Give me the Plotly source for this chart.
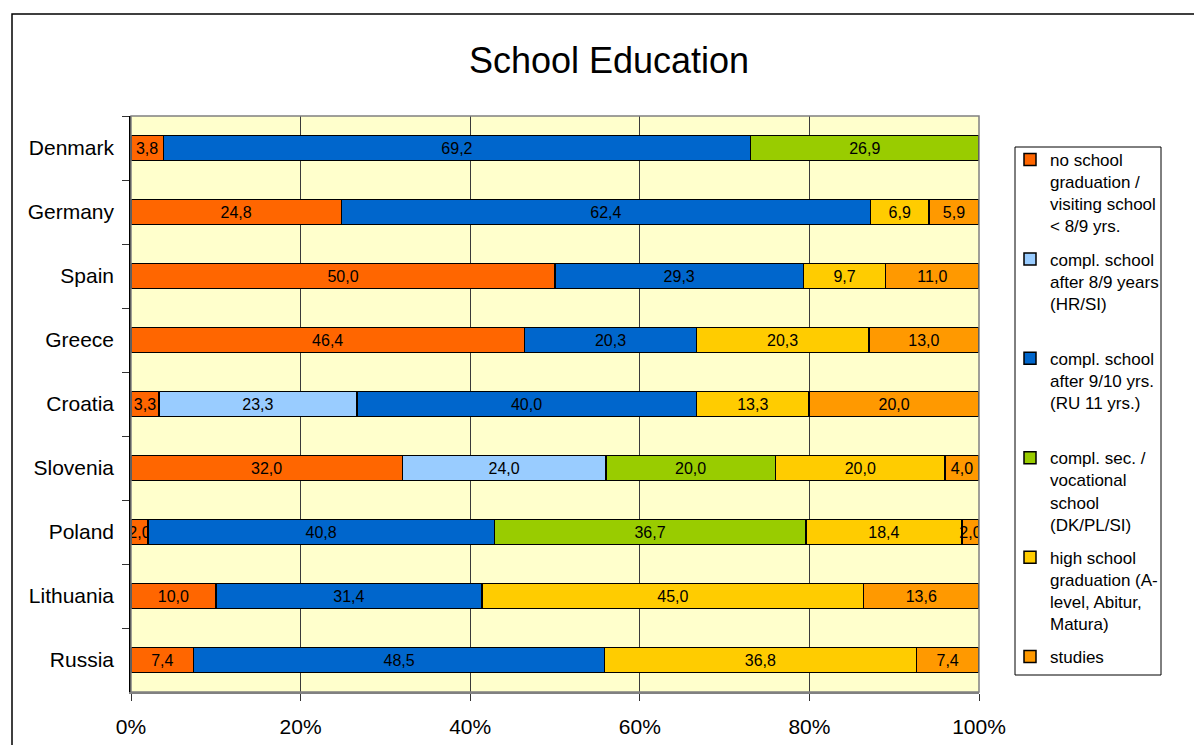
import plotly.graph_objects as go

# Countries, top to bottom
countries = ["Denmark", "Germany", "Spain", "Greece", "Croatia",
             "Slovenia", "Poland", "Lithuania", "Russia"]

# Share of respondents (%) per education level
no_school = [3.8, 24.8, 50.0, 46.4, 3.3, 32.0, 2.0, 10.0, 7.4]
compl_8_9 = [None, None, None, None, 23.3, 24.0, None, None, None]
compl_9_10 = [69.2, 62.4, 29.3, 20.3, 40.0, None, 40.8, 31.4, 48.5]
compl_sec = [26.9, None, None, None, None, 20.0, 36.7, None, None]
high_school = [None, 6.9, 9.7, 20.3, 13.3, 20.0, 18.4, 45.0, 36.8]
studies = [None, 5.9, 11.0, 13.0, 20.0, 4.0, 2.0, 13.6, 7.4]

series_names = [
    "no school<br>graduation /<br>visiting school<br>&lt; 8/9 yrs.",
    "compl. school<br>after 8/9 years<br>(HR/SI)<br>&nbsp;",
    "compl. school<br>after 9/10 yrs.<br>(RU 11 yrs.)<br>&nbsp;",
    "compl. sec. /<br>vocational<br>school<br>(DK/PL/SI)",
    "high school<br>graduation (A-<br>level, Abitur,<br>Matura)",
    "studies",
]
series_values = [no_school, compl_8_9, compl_9_10, compl_sec, high_school, studies]
series_colors = ["#FF6600", "#99CCFF", "#0066CC", "#99CC00", "#FFCC00", "#FF9900"]

FONT = "Liberation Sans, Arial, sans-serif"

W, H = 1194, 745
L, R, T, B = 131, 215, 116, 53
plot_w = W - L - R
plot_h = H - T - B


def px_x(px):
    return (px - L) / plot_w


def px_y(py):
    return (H - B - py) / plot_h


def fmt(v):
    return "" if v is None else f"{v:.1f}".replace(".", ",")


fig = go.Figure()
for i, (name, vals, col) in enumerate(zip(series_names, series_values, series_colors)):
    fig.add_trace(go.Bar(
        y=countries,
        x=[0 if v is None else v for v in vals],
        orientation="h",
        name=name,
        legendgroup=f"g{i}",
        marker=dict(color=col, line=dict(color="#000000", width=1.5)),
        text=[fmt(v) for v in vals],
        textposition="inside",
        insidetextanchor="middle",
        textangle=0,
        constraintext="none",
        textfont=dict(family=FONT, size=16, color="#000000"),
        hoverinfo="skip",
    ))

fig.update_layout(
    width=W, height=H,
    margin=dict(l=L, r=R, t=T, b=B),
    barmode="stack",
    barnorm="percent",
    bargap=0.61,
    paper_bgcolor="#FFFFFF",
    plot_bgcolor="#FFFFCC",
    font=dict(family=FONT, color="#000000"),
    title=dict(text="School Education", x=609 / W, xanchor="center",
               y=1 - 60 / H, yanchor="middle", xref="container", yref="container",
               font=dict(family=FONT, size=36, color="#000000")),
    xaxis=dict(range=[0, 100], dtick=20, ticksuffix="%",
               showgrid=True, gridcolor="#3a3a3a", gridwidth=1,
               showline=True, linecolor="#808080", linewidth=1.5,
               ticks="outside", ticklen=7, tickcolor="#333333",
               tickfont=dict(family=FONT, size=21, color="#000000"),
               ticklabelstandoff=8, automargin=False,
               zeroline=False, fixedrange=True),
    yaxis=dict(autorange="reversed", tickson="boundaries",
               showgrid=False, showline=True, linecolor="#000000", linewidth=1.5,
               ticks="outside", ticklen=7, tickcolor="#333333",
               tickfont=dict(family=FONT, size=21, color="#000000"),
               ticklabelstandoff=11, automargin=False, fixedrange=True),
    legend=dict(x=px_x(1010), y=px_y(142), xanchor="left", yanchor="top",
                bgcolor="rgba(0,0,0,0)", borderwidth=0,
                font=dict(family=FONT, size=17, color="#000000"),
                traceorder="grouped", tracegroupgap=8, valign="top"),
    shapes=[
        # plot area frame on the right and top
        dict(type="rect", xref="paper", yref="paper", x0=0, x1=1, y0=0, y1=1,
             line=dict(color="#808080", width=1.5), layer="above"),
        # chart area frame
        dict(type="rect", xref="paper", yref="paper",
             x0=px_x(12), x1=px_x(1260), y0=px_y(14), y1=px_y(800),
             line=dict(color="#000000", width=1.5), layer="above"),
        # legend box
        dict(type="rect", xref="paper", yref="paper",
             x0=px_x(1015), x1=px_x(1161), y0=px_y(147), y1=px_y(675),
             line=dict(color="#000000", width=1), fillcolor="#FFFFFF", layer="below"),
    ],
    showlegend=True,
)

fig.write_html("out.html")
